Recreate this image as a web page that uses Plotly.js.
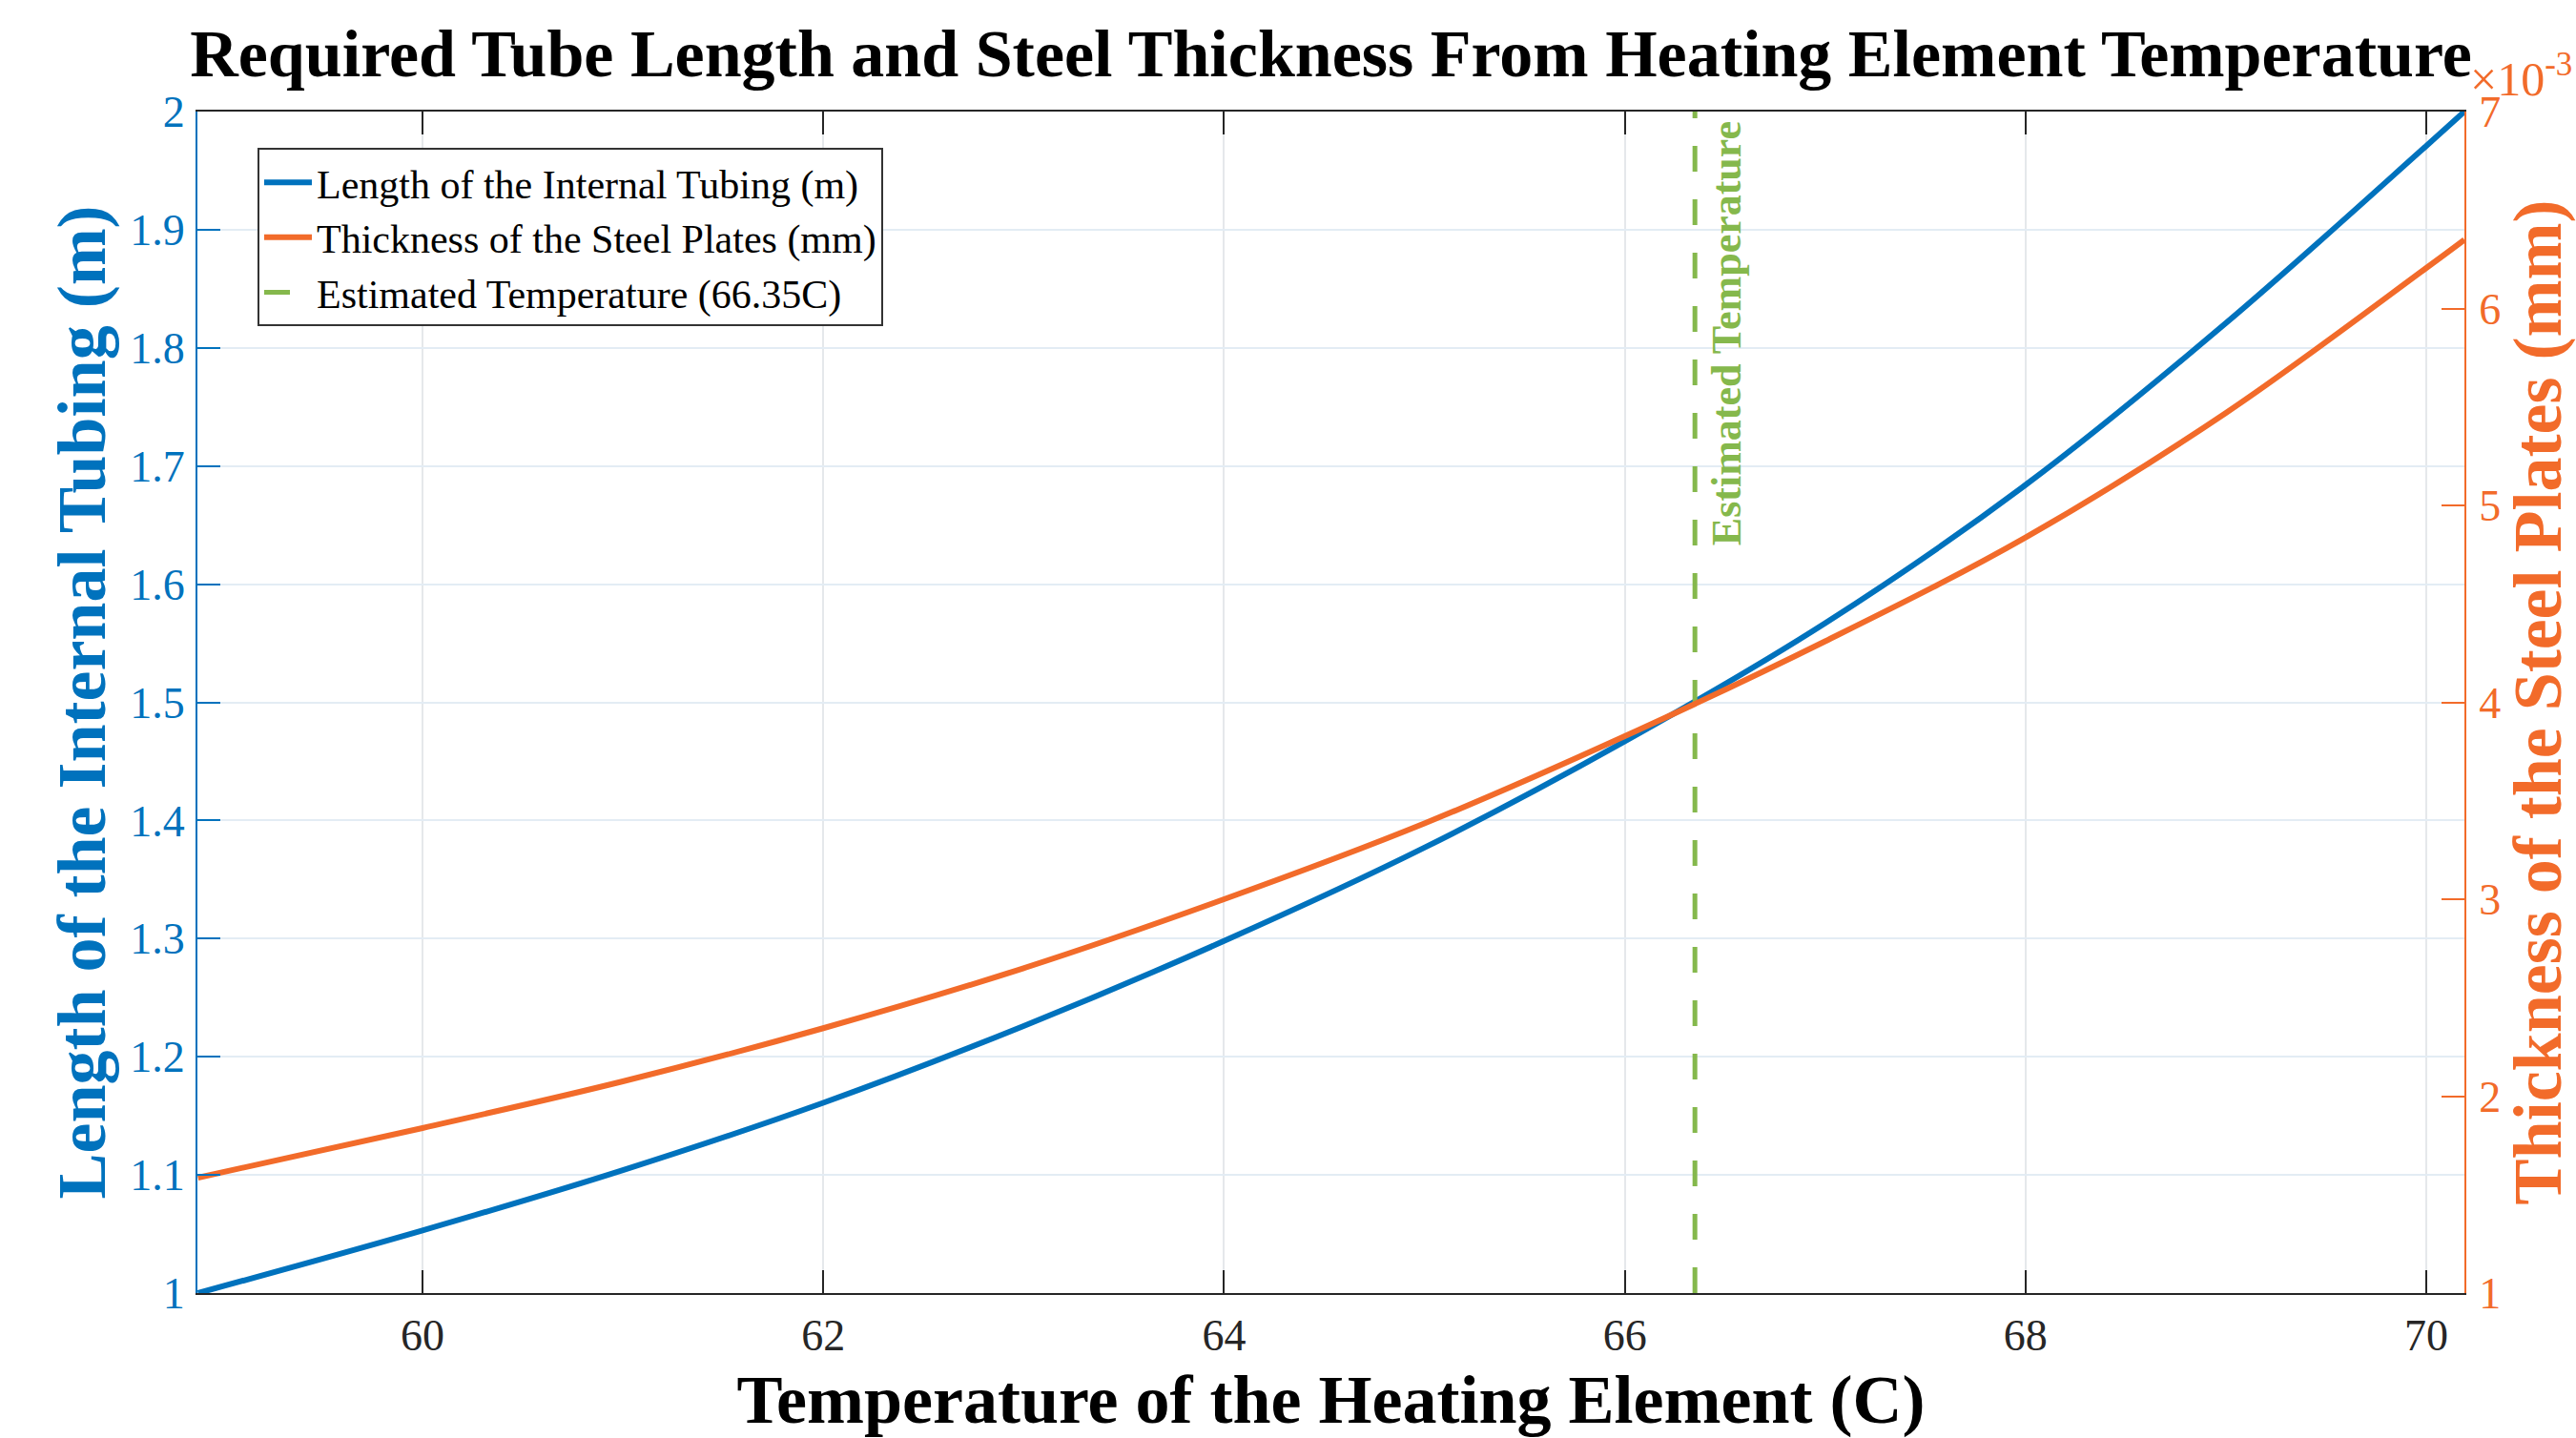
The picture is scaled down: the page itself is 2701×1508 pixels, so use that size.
<!DOCTYPE html>
<html>
<head>
<meta charset="utf-8">
<script src="https://cdn.plot.ly/plotly-3.0.1.min.js"></script>
<style>html,body{margin:0;padding:0;background:#fff;}#chart{width:2701px;height:1508px;}</style>
</head>
<body>
<div id="chart"></div>
<script>
// Temperature of the heating element (C)
const temperature = [58.88, 60, 61, 62, 63, 64, 65, 66, 67, 68, 69, 70, 70.19];
// Length of the internal tubing (m)
const tubeLength = [1.000, 1.053, 1.104, 1.161, 1.226, 1.298, 1.377, 1.467, 1.567, 1.684, 1.821, 1.971, 2.000];
// Thickness of the steel plates (axis shows x10^-3)
const plateThickness = [0.001586, 0.001838, 0.002075, 0.002345, 0.002650, 0.003000, 0.003385, 0.003828, 0.004310, 0.004837, 0.005470, 0.006206, 0.006349];
// Estimated temperature marker
const estimatedTemp = 66.35;
const xTicks = [60, 62, 64, 66, 68, 70];
const leftTicks = [1, 1.1, 1.2, 1.3, 1.4, 1.5, 1.6, 1.7, 1.8, 1.9, 2];
const leftTickText = ['1', '1.1', '1.2', '1.3', '1.4', '1.5', '1.6', '1.7', '1.8', '1.9', '2'];
const rightTicks = [0.001, 0.002, 0.003, 0.004, 0.005, 0.006, 0.007];
const rightTickText = ['1', '2', '3', '4', '5', '6', '7'];

const BLUE = '#0072BD', ORANGE = '#F26B2A', GREEN = '#85B84C', DARK = '#262626';
const SERIF = 'Liberation Serif, Times New Roman, serif';

const traces = [
  {x: temperature, y: tubeLength, type: 'scatter', mode: 'lines', line: {color: BLUE, width: 6, shape: 'spline', smoothing: 1},
   name: 'Length of the Internal Tubing (m)', yaxis: 'y'},
  {x: temperature, y: plateThickness, type: 'scatter', mode: 'lines', line: {color: ORANGE, width: 6, shape: 'spline', smoothing: 1},
   name: 'Thickness of the Steel Plates (mm)', yaxis: 'y2'},
  {x: [estimatedTemp, estimatedTemp], y: [1, 2], type: 'scatter', mode: 'lines', line: {color: GREEN, width: 5, dash: '27px,29px'},
   name: 'Estimated Temperature (66.35C)', yaxis: 'y'}
];

const layout = {
  width: 2701, height: 1508,
  margin: {l: 207, r: 117, t: 117, b: 152},
  paper_bgcolor: '#ffffff', plot_bgcolor: '#ffffff',
  font: {family: SERIF, color: DARK},
  showlegend: true,
  title: {text: '<b>Required Tube Length and Steel Thickness From Heating Element Temperature</b>',
          font: {family: SERIF, size: 70, color: '#000'}, x: 0.5, xref: 'paper', xanchor: 'center', y: 0.963, yref: 'container', yanchor: 'middle'},
  xaxis: {
    range: [58.877, 70.19], tickvals: xTicks, ticktext: xTicks.map(String),
    ticks: 'inside', ticklen: 24, tickwidth: 2, tickcolor: DARK,
    showline: true, linecolor: DARK, linewidth: 2, mirror: 'ticks',
    showgrid: true, gridcolor: '#e5e8eb', gridwidth: 2, zeroline: false,
    tickfont: {family: SERIF, size: 46, color: DARK}, ticklabelstandoff: 3,
    title: {text: '<b>Temperature of the Heating Element (C)</b>', font: {family: SERIF, size: 72, color: '#000'}, standoff: 30}
  },
  yaxis: {
    range: [1, 2], tickvals: leftTicks, ticktext: leftTickText,
    ticks: 'inside', ticklen: 24, tickwidth: 2, tickcolor: BLUE,
    showline: true, linecolor: BLUE, linewidth: 2,
    showgrid: true, gridcolor: '#e3ecf4', gridwidth: 2, zeroline: false,
    tickfont: {family: SERIF, size: 46, color: BLUE}, ticklabelstandoff: 2,
    title: {text: '<b>Length of the Internal Tubing (m)</b>', font: {family: SERIF, size: 72, color: BLUE}, standoff: 2}
  },
  yaxis2: {
    range: [0.001, 0.007], tickvals: rightTicks, ticktext: rightTickText,
    overlaying: 'y', side: 'right',
    ticks: 'inside', ticklen: 24, tickwidth: 2, tickcolor: ORANGE,
    showline: true, linecolor: ORANGE, linewidth: 2,
    showgrid: false, zeroline: false,
    tickfont: {family: SERIF, size: 46, color: ORANGE}, ticklabelstandoff: 4,
    title: {text: '<b>Thickness of the Steel Plates (mm)</b>', font: {family: SERIF, size: 72, color: ORANGE}, standoff: 20}
  },
  legend: {
    x: 0.0265, y: 0.969, xanchor: 'left', yanchor: 'top',
    bgcolor: '#ffffff', bordercolor: '#333', borderwidth: 2,
    font: {family: SERIF, size: 42, color: '#000'},
    itemwidth: 50, tracegroupgap: 0
  },
  annotations: [
    {text: '<b>Estimated Temperature</b>', x: estimatedTemp, xref: 'x', y: 2, yref: 'y',
     xanchor: 'left', yanchor: 'top', textangle: -90, showarrow: false, xshift: 7, yshift: -8,
     font: {family: SERIF, size: 44, color: GREEN}},
    {text: '×10<sup>-3</sup>', x: 1, xref: 'paper', y: 1, yref: 'paper', xanchor: 'left', yanchor: 'bottom',
     showarrow: false, xshift: 4, yshift: 4, font: {family: SERIF, size: 50, color: ORANGE}}
  ]
};

Plotly.newPlot('chart', traces, layout, {displayModeBar: false, staticPlot: true});
</script>
</body>
</html>
